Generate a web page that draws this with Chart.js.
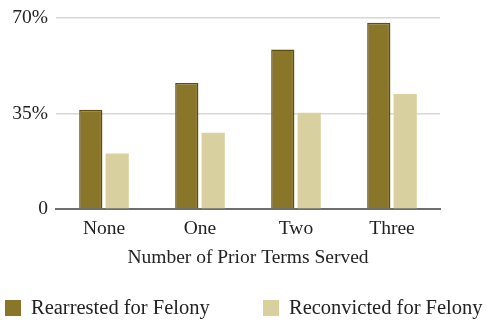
<!DOCTYPE html>
<html>
<head>
<meta charset="utf-8">
<script src="https://cdn.jsdelivr.net/npm/chart.js@4/dist/chart.umd.min.js"></script>
<style>
  html, body { margin: 0; padding: 0; background: #fff; }
  #wrap { width: 488px; height: 324px; position: relative; }
</style>
</head>
<body>
<div id="wrap"><canvas id="priorTermsChart"></canvas></div>
<script>
// values (percent)
const priorTerms = ['None', 'One', 'Two', 'Three'];
const rearrested = [36.3, 46.1, 58.4, 68.2];
const reconvicted = [20.3, 27.9, 35.2, 42.1];
const yTicks = [0, 35, 70];

const serif = "'Liberation Serif', 'DejaVu Serif', serif";

// legend drawn by hand so the two items sit left and right like the original
const legendX = [5, 263];
const bottomLegend = {
    id: 'bottomLegend',
    afterDraw(chart) {
        const c = chart.ctx;
        c.save();
        c.font = '20.5px ' + serif;
        c.textBaseline = 'middle';
        chart.data.datasets.forEach((d, i) => {
            const x = legendX[i];
            c.fillStyle = d.backgroundColor;
            c.fillRect(x, 300, 16, 16);
            c.fillStyle = '#222';
            c.fillText(d.label, x + 26, 309);
        });
        c.restore();
    }
};

const axisFont = { family: serif, size: 19.5, lineHeight: 1 };

const ctx = document.getElementById('priorTermsChart').getContext('2d');
const priorTermsChart = new Chart(ctx, {
    type: 'bar',
    data: {
        labels: priorTerms,
        datasets: [{
            label: 'Rearrested for Felony',
            data: rearrested,
            backgroundColor: '#8a7629',
            borderColor: '#5e4c12',
            borderWidth: 1.5,
            borderSkipped: 'bottom'
        }, {
            label: 'Reconvicted for Felony',
            data: reconvicted,
            backgroundColor: '#d9d0a0',
            borderColor: '#d9d0a0',
            borderWidth: 0
        }]
    },
    options: {
        responsive: true,
        maintainAspectRatio: false,
        animation: false,
        layout: {
            padding: { top: 8, right: 0, left: 0, bottom: 56 }
        },
        datasets: {
            bar: {
                categoryPercentage: 0.55,
                barPercentage: 0.88
            }
        },
        scales: {
            x: {
                grid: { display: false, drawTicks: false },
                border: { display: true, color: '#6e6e6e', width: 2 },
                ticks: {
                    color: '#222',
                    font: axisFont,
                    padding: 10
                },
                title: {
                    display: true,
                    text: 'Number of Prior Terms Served',
                    color: '#222',
                    font: axisFont,
                    padding: { top: 0, bottom: 0 }
                }
            },
            y: {
                min: 0,
                max: 70,
                afterBuildTicks: (axis) => {
                    axis.ticks = yTicks.map(v => ({ value: v }));
                },
                afterFit: (axis) => { axis.width = 56; },
                grid: {
                    color: (c) => c.tick && c.tick.value === 0 ? 'rgba(0,0,0,0)' : '#d8d8d8',
                    lineWidth: 1.5,
                    drawTicks: false
                },
                border: { display: false },
                ticks: {
                    color: '#222',
                    font: axisFont,
                    padding: 8,
                    callback: (v) => v === 0 ? '0' : v + '%'
                }
            },
            // empty right axis, only keeps room on the right of the plot
            spacer: {
                position: 'right',
                min: 0,
                max: 70,
                afterFit: (axis) => { axis.width = 48; },
                grid: { display: false },
                border: { display: false },
                ticks: { display: false }
            }
        },
        plugins: {
            legend: { display: false },
            tooltip: { enabled: false }
        }
    },
    plugins: [bottomLegend]
});
</script>
</body>
</html>
